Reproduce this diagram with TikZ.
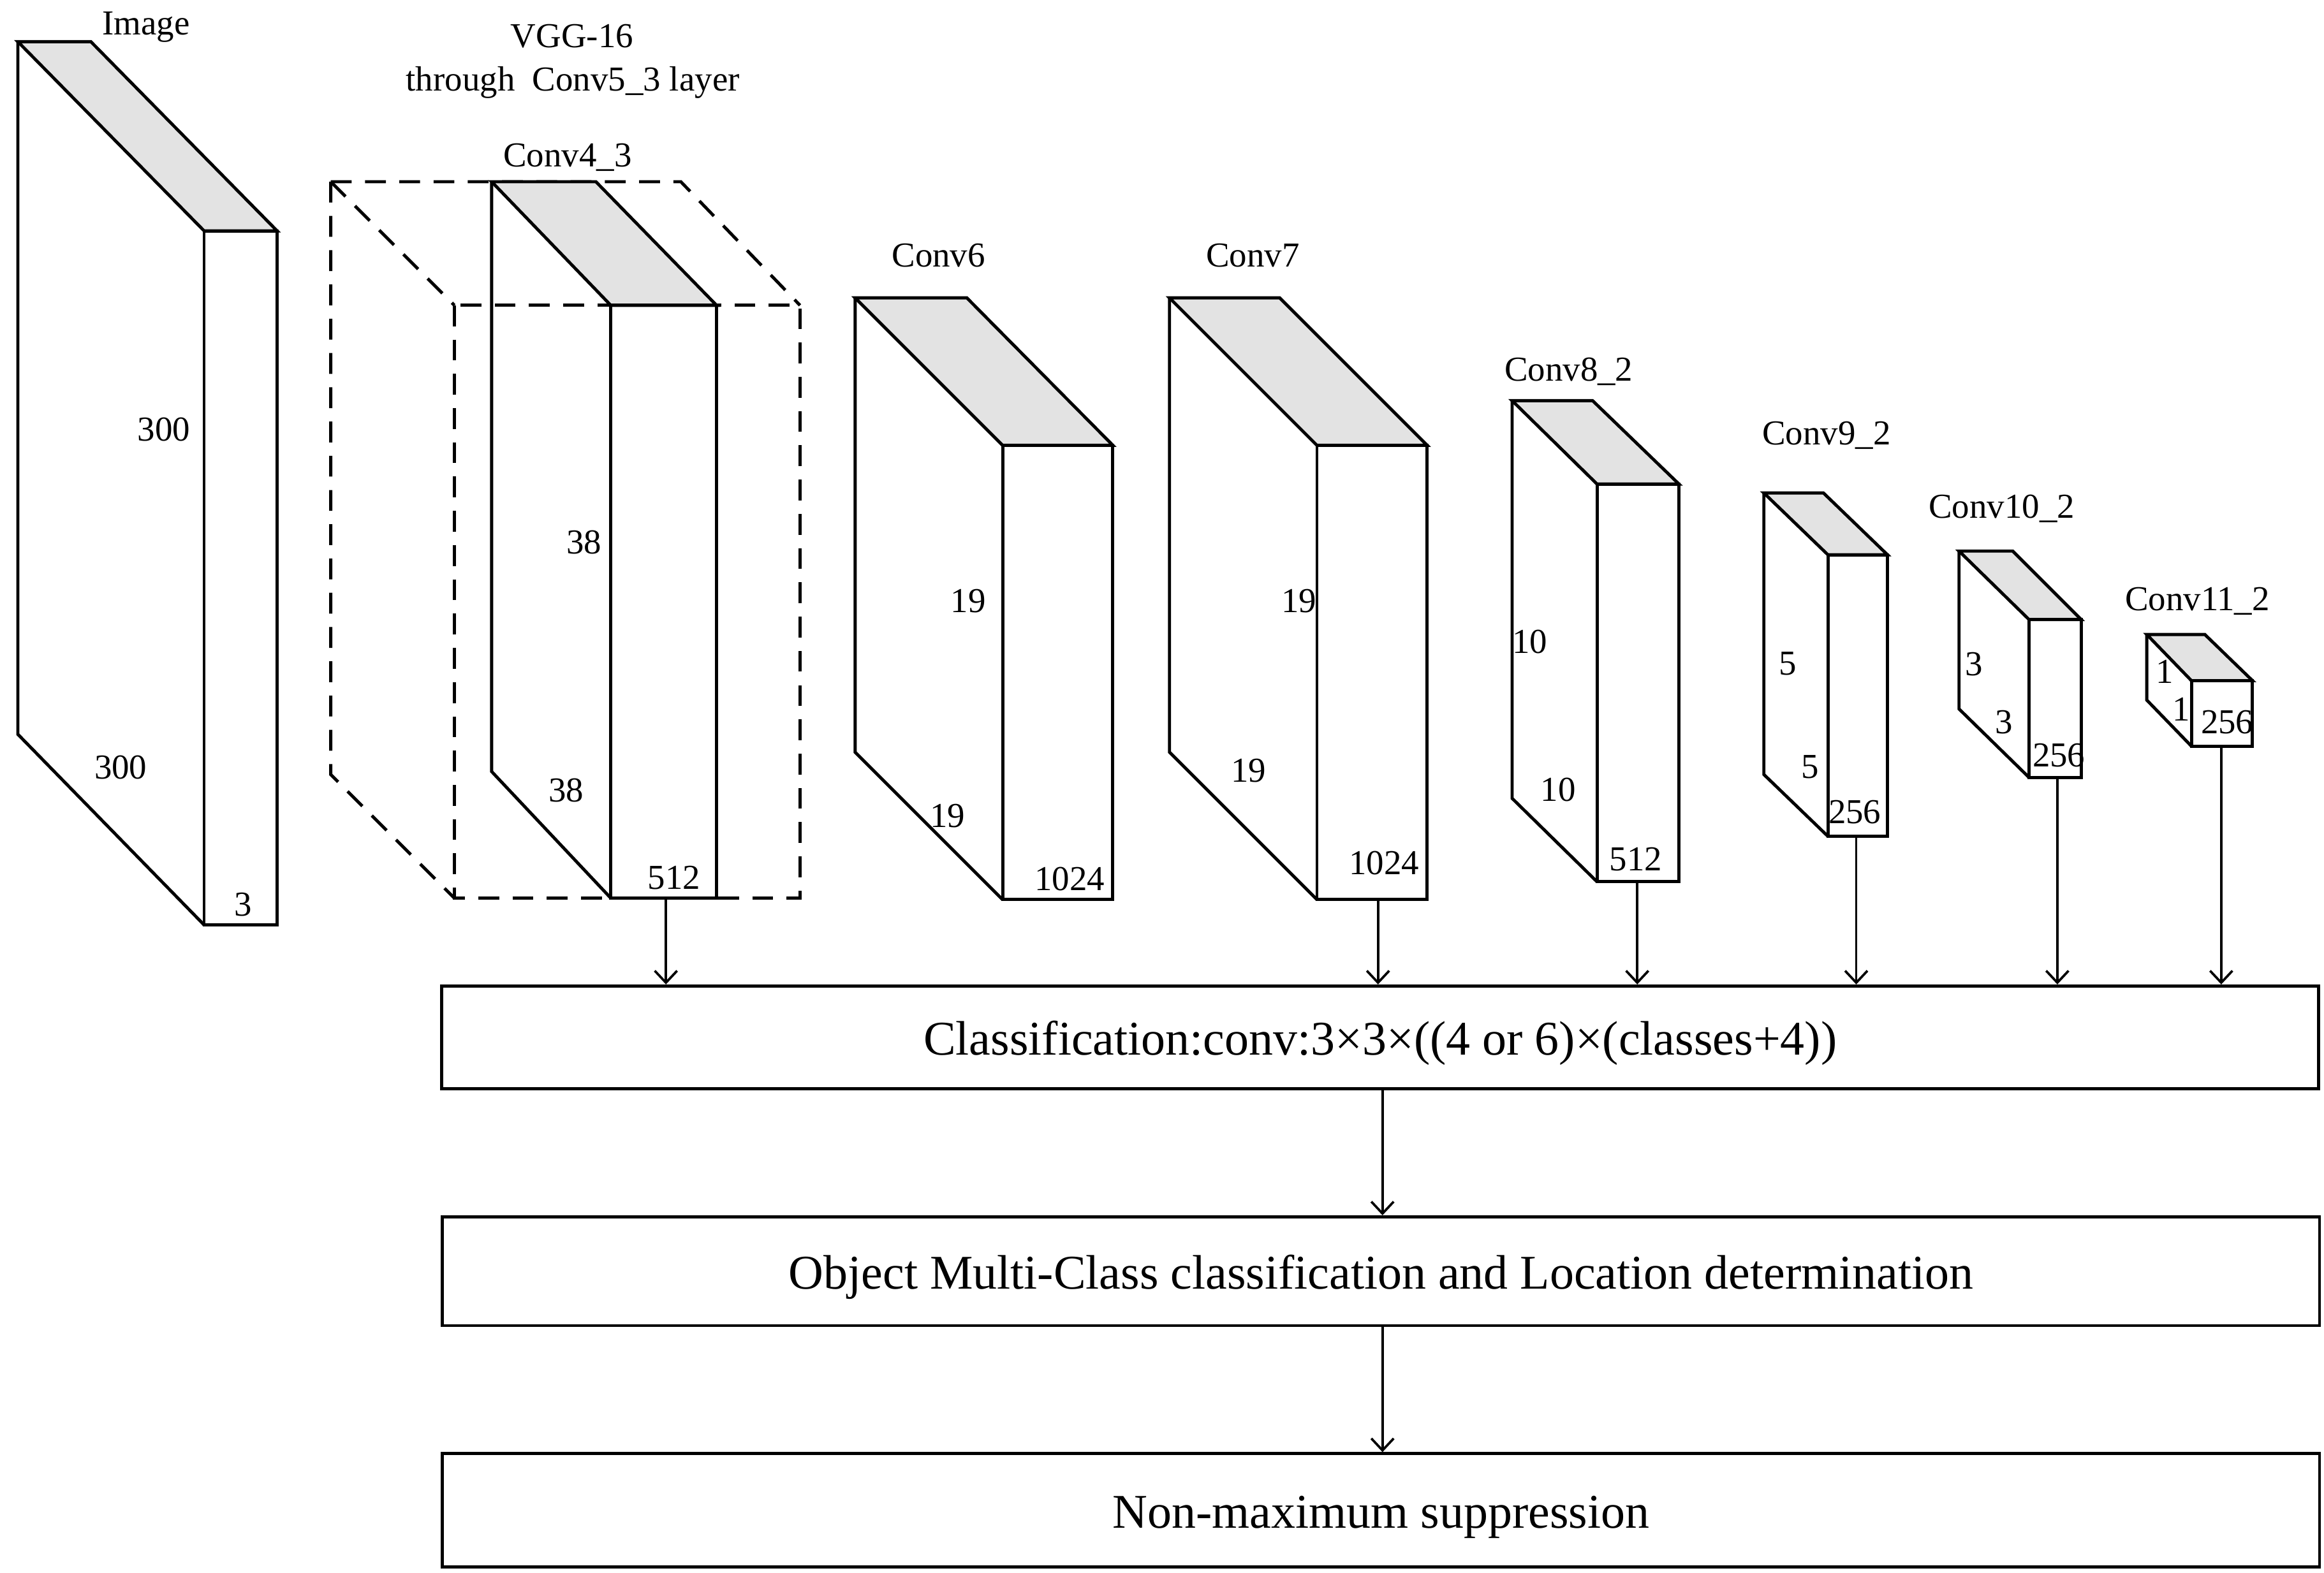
\documentclass[tikz,border=0pt]{standalone}
\usepackage{fontspec}
\setmainfont{Liberation Serif}
\usetikzlibrary{arrows.meta}
\definecolor{topgray}{RGB}{227,227,227}
\newcommand\labfont{\fontsize{23.5}{28}\selectfont}
\newcommand\boxfont{\fontsize{32.5}{39}\selectfont}
% #1 left x, #2 top-face right x, #3 front left x, #4 front right x,
% #5 top y, #6 front top y, #7 bottom y, #8 left-face bottom y
\newcommand\cuboid[8]{%
  \filldraw[edge,fill=topgray] (#1,#5) -- (#2,#5) -- (#4,#6) -- (#3,#6) -- cycle;
  \draw[edge] (#1,#5) -- (#1,#8) -- (#3,#7);
  \draw[edge] (#3,#6) rectangle (#4,#7);
}
\begin{document}
\begin{tikzpicture}[x=1pt,y=-1pt,
  edge/.style={line width=2.1pt,line join=miter},
  dsh/.style={line width=2.1pt,dash pattern=on 14pt off 9pt},
  lab/.style={font=\labfont,inner sep=0pt,anchor=base},
  box/.style={draw,line width=2.1pt,minimum width=1260pt,inner sep=0pt,
    font=\boxfont,text height=30pt,text depth=6pt},
  arr/.style={line width=1.6pt,-{Straight Barb[length=8pt,width=15pt]}}]
\useasboundingbox (0,0) rectangle (1560,1056);

% dashed VGG block
\draw[dsh] (222,122) -- (457,122) -- (537,205);
\draw[dsh] (222,122) -- (305,205);
\draw[dsh] (222,122) -- (222,520) -- (305,603);
\draw[dsh] (305,205) rectangle (537,603);

% cuboids
\cuboid{12}{61}{137}{186}{28}{155}{621}{493}
\cuboid{330}{400}{410}{481}{122}{205}{603}{518}
\cuboid{574}{649}{673}{747}{200}{299}{604}{505}
\cuboid{785}{859}{884}{958}{200}{299}{604}{505}
\cuboid{1015}{1069}{1072}{1127}{269}{325}{592}{536}
\cuboid{1184}{1224}{1227}{1267}{331}{372.5}{561.5}{520}
\cuboid{1315}{1351}{1362}{1397}{370}{416}{522}{476}
\cuboid{1441}{1480}{1471}{1512}{426}{457}{501}{470}

% arrow start points (bottom of front faces)
\coordinate (a43) at (447,603);
\coordinate (a7) at (925,604);
\coordinate (a8) at (1099,592);
\coordinate (a9) at (1246,561.5);
\coordinate (a10) at (1381,522);
\coordinate (a11) at (1491,501);

% labels
\node[lab] (limg) at (98,23.5) {Image};
\node[lab] (lvgg) at (384,32) {VGG-16};
\node[lab] (lthr) at (384.5,61) {through~ Conv5\_3 layer};
\node[lab] (l43) at (381,112) {Conv4\_3};
\node[lab] (i1) at (110,296) {300};
\node[lab] (i2) at (81,523) {300};
\node[lab] (i3) at (163,615) {3};
\node[lab] (c431) at (392,372) {38};
\node[lab] (c432) at (380,538.5) {38};
\node[lab] (c433) at (452.5,597) {512};
\node[lab] (l6) at (630,179) {Conv6};
\node[lab] (c61) at (650,411) {19};
\node[lab] (c62) at (636,555.5) {19};
\node[lab] (c63) at (718,598) {1024};
\node[lab] (l7) at (841,179) {Conv7};
\node[lab] (c71) at (872,411) {19};
\node[lab] (c72) at (838,525) {19};
\node[lab] (c73) at (929,587) {1024};
\node[lab] (l8) at (1053,256) {Conv8\_2};
\node[lab] (c81) at (1027,438.5) {10};
\node[lab] (c82) at (1046,538) {10};
\node[lab] (c83) at (1098,584.6) {512};
\node[lab] (l9) at (1226,298.5) {Conv9\_2};
\node[lab] (c91) at (1200,453) {5};
\node[lab] (c92) at (1215,522.5) {5};
\node[lab] (c93) at (1245,552.7) {256};
\node[lab] (l10) at (1343.6,348) {Conv10\_2};
\node[lab] (c101) at (1325,453.7) {3};
\node[lab] (c102) at (1345,492.5) {3};
\node[lab] (c103) at (1382,515) {256};
\node[lab] (l11) at (1475,410) {Conv11\_2};
\node[lab] (c111) at (1453,458.6) {1};
\node[lab] (c112) at (1464,484) {1};
\node[lab] (c113) at (1495,492.5) {256};

% boxes
\node[box,minimum height=69pt] (cls) at (926.5,696.5)
  {Classification:conv:3×3×((4 or 6)×(classes+4))};
\node[box,minimum height=73pt] (obj) at (927,853.5)
  {Object Multi-Class classification and Location determination};
\node[box,minimum height=76pt] (nms) at (927,1014)
  {Non-maximum suppression};

% connectors
\foreach \a in {a43,a7,a8,a9,a10,a11}
  \draw[arr] (\a) -- (\a |- cls.north);
\draw[arr] (cls.south -| 928,0) -- (obj.north -| 928,0);
\draw[arr] (obj.south -| 928,0) -- (nms.north -| 928,0);
\end{tikzpicture}
\end{document}
